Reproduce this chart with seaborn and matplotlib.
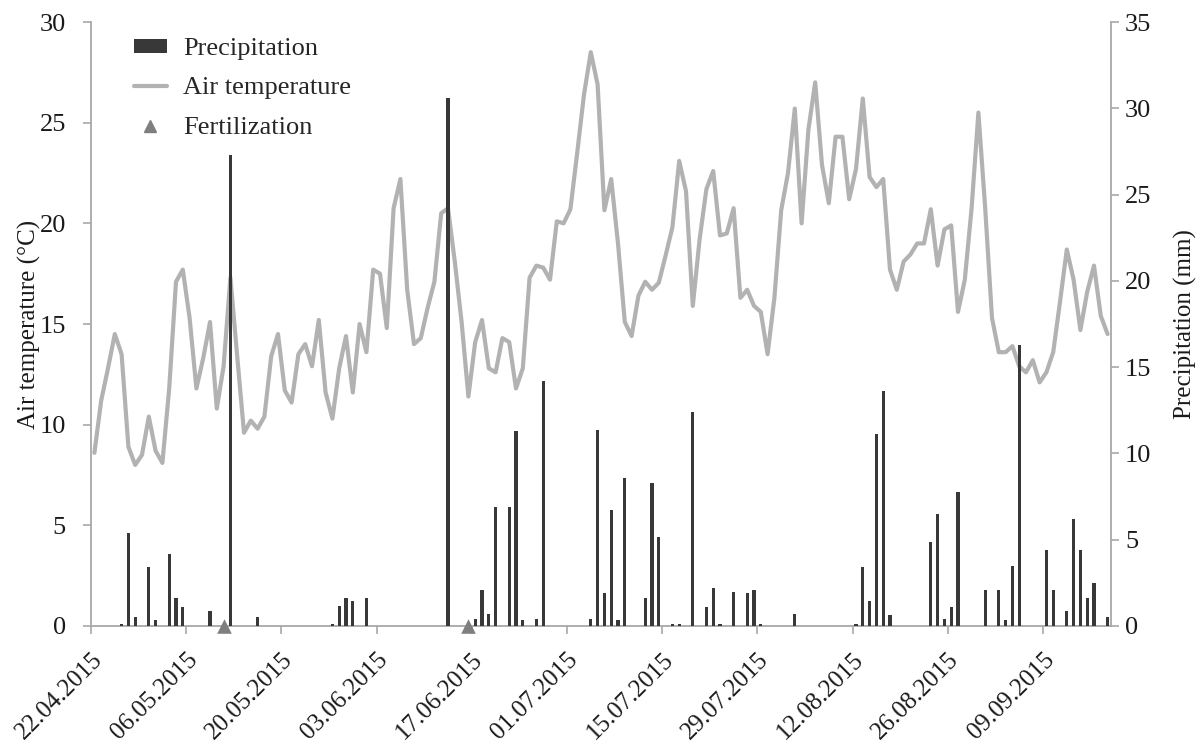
import numpy as np
import matplotlib
matplotlib.use("Agg")
import matplotlib.pyplot as plt
import seaborn as sns
from matplotlib.lines import Line2D
from matplotlib.patches import Patch

sns.set_theme(style="white")
plt.rcParams["font.family"] = ["Liberation Serif", "DejaVu Serif"]

# Daily mean air temperature (°C), 22.04.2015 - 18.09.2015
temperature = [
    8.6, 11.2, 12.8, 14.5, 13.5, 8.9, 8.0, 8.5, 10.4, 8.7,
    8.1, 11.8, 17.1, 17.7, 15.3, 11.8, 13.3, 15.1, 10.8, 12.9,
    17.3, 13.4, 9.6, 10.2, 9.8, 10.4, 13.4, 14.5, 11.7, 11.1,
    13.5, 14.0, 12.9, 15.2, 11.6, 10.3, 12.8, 14.4, 11.6, 15.0,
    13.6, 17.7, 17.5, 14.8, 20.75, 22.2, 16.7, 14.0, 14.3, 15.8,
    17.1, 20.5, 20.75, 18.1, 15.1, 11.4, 14.1, 15.2, 12.8, 12.6,
    14.3, 14.1, 11.8, 12.8, 17.3, 17.9, 17.8, 17.2, 20.1, 20.0,
    20.7, 23.5, 26.4, 28.5, 26.9, 20.65, 22.2, 19.0, 15.1, 14.4,
    16.4, 17.1, 16.7, 17.05, 18.4, 19.8, 23.1, 21.6, 15.9, 19.2,
    21.7, 22.6, 19.4, 19.5, 20.75, 16.3, 16.7, 15.9, 15.6, 13.5,
    16.3, 20.65, 22.5, 25.7, 20.0, 24.65, 27.0, 22.9, 21.0, 24.3,
    24.3, 21.2, 22.7, 26.2, 22.3, 21.8, 22.2, 17.7, 16.7, 18.1,
    18.45, 19.0, 19.0, 20.7, 17.9, 19.7, 19.9, 15.6, 17.2, 20.75,
    25.5, 20.75, 15.3, 13.6, 13.6, 13.9, 12.9, 12.6, 13.2, 12.1,
    12.6, 13.6, 16.1, 18.7, 17.2, 14.7, 16.6, 17.9, 15.4, 14.5,
]

# Days with rain (offset in days from 22.04.2015) and daily sums (mm)
rain_day = [
    4, 5, 6, 8, 9, 11, 12, 13, 17, 20, 24,
    35, 36, 37, 38, 40, 52, 56, 57, 58, 59, 61, 62, 63, 65, 66,
    73, 74, 75, 76, 77, 78, 81, 82, 83, 85, 86, 88, 90, 91, 92,
    94, 96, 97, 98, 103, 112, 113, 114, 115, 116, 117,
    123, 124, 125, 126, 127, 131, 133, 134, 135, 136,
    140, 141, 143, 144, 145, 146, 147, 149,
]
rain_mm = [
    0.1, 5.4, 0.55, 3.4, 0.33, 4.2, 1.6, 1.1, 0.85, 27.3, 0.55,
    0.1, 1.15, 1.6, 1.45, 1.65, 30.6, 0.4, 2.1, 0.7, 6.9, 6.9, 11.3, 0.33, 0.4, 14.2,
    0.4, 11.35, 1.9, 6.7, 0.33, 8.55, 1.65, 8.3, 5.15, 0.1, 0.1, 12.4, 1.1, 2.2, 0.1,
    1.95, 1.9, 2.1, 0.1, 0.7, 0.1, 3.4, 1.45, 11.1, 13.6, 0.65,
    4.85, 6.5, 0.4, 1.1, 7.75, 2.1, 2.1, 0.33, 3.45, 16.3,
    4.4, 2.1, 0.85, 6.2, 4.4, 1.65, 2.5, 0.55,
]

# Fertilization dates (offset in days)
fert_day = [19, 55]

tick_labels = [
    "22.04.2015", "06.05.2015", "20.05.2015", "03.06.2015", "17.06.2015",
    "01.07.2015", "15.07.2015", "29.07.2015", "12.08.2015", "26.08.2015",
    "09.09.2015",
]

LINE_C = "#b2b2b2"
BAR_C = "#383838"
TRI_C = "#7f7f7f"
SPINE_C = "#a8a8a8"
TEXT_C = "#1a1a1a"

days = np.arange(len(temperature))
W, H = 1203, 744
fig = plt.figure(figsize=(W / 100, H / 100), dpi=100)
ax = fig.add_axes([91 / W, 1 - 626 / H, 1020 / W, 604 / H])
ax2 = ax.twinx()

sns.lineplot(x=days, y=temperature, ax=ax, color=LINE_C, linewidth=3.0)

sns.barplot(x=rain_day, y=rain_mm, ax=ax2, native_scale=True, width=0.45,
            color=BAR_C, saturation=1, linewidth=0, errorbar=None)

sns.scatterplot(x=fert_day, y=[0] * len(fert_day), ax=ax2, marker="^", s=110,
                color=TRI_C, linewidth=0, clip_on=False, zorder=10)

ax.set_xlim(-0.5, len(temperature) - 0.5)
ax2.set_xlim(-0.5, len(temperature) - 0.5)
ax.set_ylim(0, 30)
ax2.set_ylim(0, 35)
ax.set_yticks(range(0, 31, 5))
ax2.set_yticks(range(0, 36, 5))
ax.set_xticks(np.arange(len(tick_labels)) * 14 - 0.5)
ax.set_xticklabels(tick_labels, rotation=45, ha="right", va="top",
                   rotation_mode="anchor")

for a in (ax, ax2):
    for s in a.spines.values():
        s.set_color(SPINE_C)
        s.set_linewidth(1.3)
    a.spines["top"].set_visible(False)
ax.spines["right"].set_visible(False)
ax2.spines["left"].set_visible(False)
ax2.spines["bottom"].set_visible(False)

ax.tick_params(axis="both", which="major", bottom=True, left=True, direction="out",
               length=6, width=1.2, color=SPINE_C, labelsize=19, labelcolor=TEXT_C)
ax.tick_params(axis="y", pad=12)
ax.tick_params(axis="x", pad=10, labelsize=18)
ax2.tick_params(axis="y", right=True, direction="out", length=6, width=1.2,
                color=SPINE_C, labelsize=19, labelcolor=TEXT_C, pad=4)

ax.set_ylabel("Air temperature (°C)", fontsize=18, color=TEXT_C, labelpad=-1)
ax2.set_ylabel("Precipitation (mm)", fontsize=18, color=TEXT_C, labelpad=16)
ax.set_xlabel("")
ax2.set_xlabel("")

handles = [
    Patch(facecolor=BAR_C, edgecolor="none"),
    Line2D([0], [0], color=LINE_C, linewidth=3.0),
    Line2D([0], [0], color=TRI_C, marker="^", linestyle="none", markersize=9),
]
fig.legend(handles, ["Precipitation", "Air temperature", "Fertilization"],
           loc="upper left", bbox_to_anchor=(134 / W, 1 - 38 / H),
           frameon=False, fontsize=19, handlelength=1.25, handleheight=0.45,
           handletextpad=0.6, labelspacing=0.66, borderpad=0, borderaxespad=0)

fig.savefig("out.png", dpi=100)
